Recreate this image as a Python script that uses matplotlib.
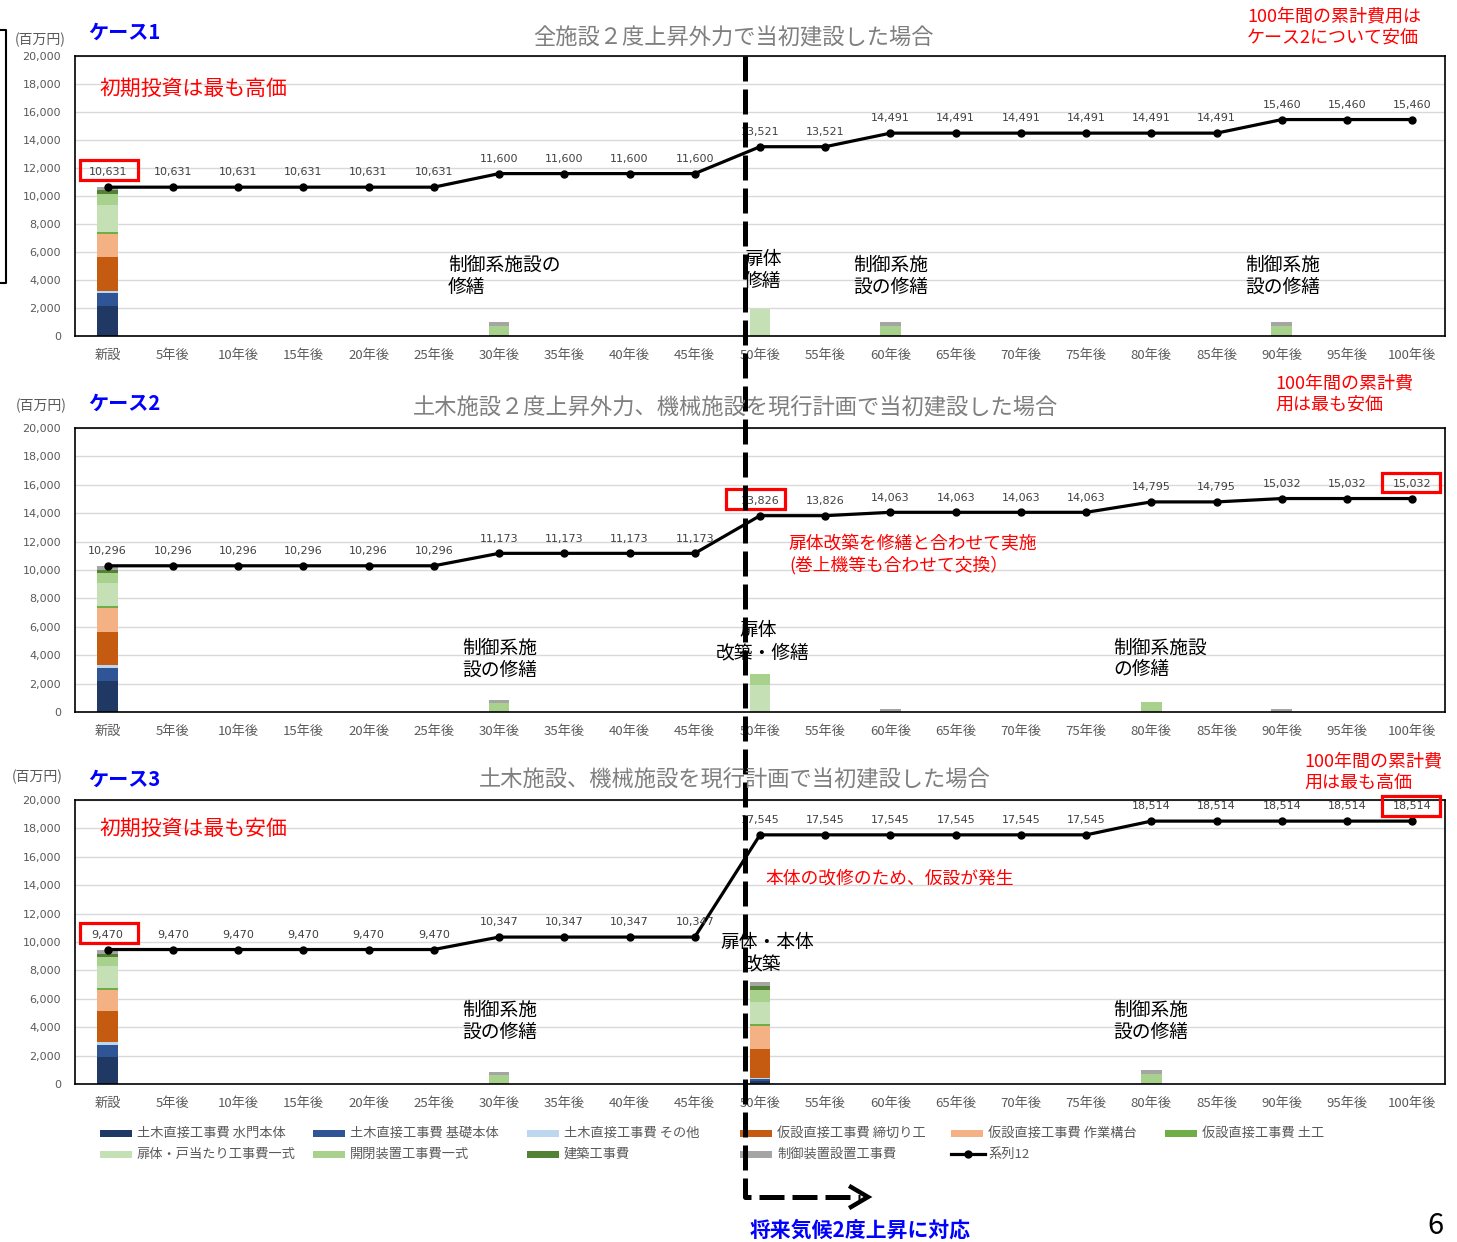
import matplotlib
matplotlib.use("Agg")
import matplotlib.pyplot as plt
from matplotlib.patches import Rectangle
from matplotlib.lines import Line2D
import numpy as np

plt.rcParams['font.family'] = ['Noto Sans CJK JP', 'DejaVu Sans']

# ---- categories -------------------------------------------------------
periods = ['新設', '5年後', '10年後', '15年後', '20年後', '25年後', '30年後',
           '35年後', '40年後', '45年後', '50年後', '55年後', '60年後', '65年後',
           '70年後', '75年後', '80年後', '85年後', '90年後', '95年後', '100年後']

components = ['土木直接工事費 水門本体', '土木直接工事費 基礎本体', '土木直接工事費 その他',
              '仮設直接工事費 締切り工', '仮設直接工事費 作業構台', '仮設直接工事費 土工',
              '扉体・戸当たり工事費一式', '開閉装置工事費一式', '建築工事費', '制御装置設置工事費']
component_colors = ['#203864', '#2F5597', '#BDD7EE', '#C55A11', '#F4B183', '#70AD47',
                    '#C5E0B4', '#A9D18E', '#548235', '#A5A5A5']

# ---- cost per period (million yen), order follows `components` ----------
case1_bars = {
    '新設':   [2150, 900, 200, 2400, 1630, 170, 1921, 790, 260, 210],
    '30年後': [0, 0, 0, 0, 0, 0, 0, 732, 0, 237],
    '50年後': [0, 0, 0, 0, 0, 0, 1921, 0, 0, 0],
    '60年後': [0, 0, 0, 0, 0, 0, 0, 733, 0, 237],
    '90年後': [0, 0, 0, 0, 0, 0, 0, 732, 0, 237],
}
case2_bars = {
    '新設':   [2180, 890, 210, 2330, 1690, 165, 1650, 640, 280, 261],
    '30年後': [0, 0, 0, 0, 0, 0, 0, 640, 0, 237],
    '50年後': [0, 0, 0, 0, 0, 0, 1921, 732, 0, 0],
    '60年後': [0, 0, 0, 0, 0, 0, 0, 0, 0, 237],
    '80年後': [0, 0, 0, 0, 0, 0, 0, 732, 0, 0],
    '90年後': [0, 0, 0, 0, 0, 0, 0, 0, 0, 237],
}
case3_bars = {
    '新設':   [1900, 865, 215, 2140, 1490, 145, 1540, 640, 240, 295],
    '30年後': [0, 0, 0, 0, 0, 0, 0, 640, 0, 237],
    '50年後': [200, 125, 75, 2100, 1575, 150, 1550, 850, 250, 323],
    '80年後': [0, 0, 0, 0, 0, 0, 0, 732, 0, 237],
}

# ---- cumulative cost (系列12) -------------------------------------------
case1_total = [10631, 10631, 10631, 10631, 10631, 10631, 11600, 11600, 11600, 11600,
               13521, 13521, 14491, 14491, 14491, 14491, 14491, 14491, 15460, 15460, 15460]
case2_total = [10296, 10296, 10296, 10296, 10296, 10296, 11173, 11173, 11173, 11173,
               13826, 13826, 14063, 14063, 14063, 14063, 14795, 14795, 15032, 15032, 15032]
case3_total = [9470, 9470, 9470, 9470, 9470, 9470, 10347, 10347, 10347, 10347,
               17545, 17545, 17545, 17545, 17545, 17545, 18514, 18514, 18514, 18514, 18514]

y_ticks = [0, 2000, 4000, 6000, 8000, 10000, 12000, 14000, 16000, 18000, 20000]

W, H = 1457, 1242
fig = plt.figure(figsize=(W / 100, H / 100), dpi=100)
GRAY = '#595959'
TITLE_GRAY = '#7F7F7F'
RED = '#FF0000'
BLUE = '#0000FF'


def px_axes(l, t, r, b):
    return fig.add_axes([l / W, 1 - b / H, (r - l) / W, (b - t) / H])


panels = [
    ((75, 56, 1445, 336), case1_bars, case1_total),
    ((75, 428, 1445, 712), case2_bars, case2_total),
    ((75, 800, 1445, 1084), case3_bars, case3_total),
]

for box, bars, total in panels:
    ax = px_axes(*box)
    x = np.arange(len(periods))
    bottoms = np.zeros(len(periods))
    for k, color in enumerate(component_colors):
        vals = np.zeros(len(periods))
        for period, comp_vals in bars.items():
            vals[periods.index(period)] = comp_vals[k]
        ax.bar(x, vals, 0.32, bottom=bottoms, color=color, linewidth=0, zorder=2)
        bottoms += vals
    ax.plot(x, total, color='black', lw=2.3, marker='o', ms=5, zorder=3)
    for xi, v in zip(x, total):
        ax.annotate(f'{v:,}', (xi, v), xytext=(0, 7), textcoords='offset points',
                    ha='center', va='bottom', fontsize=8, color='#404040',
                    family='DejaVu Sans', zorder=4)
    ax.set_xlim(-0.5, len(periods) - 0.5)
    ax.set_ylim(0, 20000)
    ax.set_yticks(y_ticks)
    ax.set_yticklabels([f'{t:,}' for t in y_ticks], family='DejaVu Sans',
                       fontsize=8, color=GRAY)
    ax.set_xticks(x)
    ax.set_xticklabels(periods, fontsize=9.5, color=GRAY)
    ax.tick_params(length=0)
    ax.tick_params(axis='y', pad=10)
    ax.tick_params(axis='x', pad=9)
    ax.grid(axis='y', color='#D9D9D9', lw=1, zorder=0)
    ax.set_axisbelow(True)
    for s in ax.spines.values():
        s.set_color('black')
        s.set_linewidth(1.2)

# ---- annotation layer in pixel coordinates ------------------------------
ov = fig.add_axes([0, 0, 1, 1], zorder=10)
ov.set_xlim(0, W)
ov.set_ylim(H, 0)
ov.axis('off')
ov.patch.set_alpha(0)


def txt(x, y, s, size=13.5, color='black', ha='left', weight='normal'):
    ov.text(x, y, s, fontsize=size, color=color, ha=ha, va='center', weight=weight)


# case 1
txt(15, 40, '(百万円)', 10, GRAY)
txt(88, 32, 'ケース1', 14.5, BLUE, weight='bold')
txt(733, 38, '全施設２度上昇外力で当初建設した場合', 16, TITLE_GRAY, ha='center')
txt(100, 89, '初期投資は最も高価', 15, RED)
txt(1247, 16, '100年間の累計費用は', 13, RED)
txt(1247, 38, 'ケース2について安価', 13, RED)
txt(448, 265, '制御系施設の')
txt(448, 287, '修繕')
txt(744, 259, '扉体')
txt(744, 281, '修繕')
txt(853, 265, '制御系施')
txt(853, 287, '設の修繕')
txt(1245, 265, '制御系施')
txt(1245, 287, '設の修繕')

# case 2
txt(16, 406, '(百万円)', 10, GRAY)
txt(88, 403, 'ケース2', 14.5, BLUE, weight='bold')
txt(735, 408, '土木施設２度上昇外力、機械施設を現行計画で当初建設した場合', 16, TITLE_GRAY, ha='center')
txt(1275, 383, '100年間の累計費', 13, RED)
txt(1275, 405, '用は最も安価', 13, RED)
txt(789, 544, '扉体改築を修繕と合わせて実施', 12.8, RED)
txt(789, 565, '(巻上機等も合わせて交換）', 12.8, RED)
txt(462, 648, '制御系施')
txt(462, 670, '設の修繕')
txt(739, 630, '扉体')
txt(716, 653, '改築・修繕')
txt(1113, 648, '制御系施設')
txt(1113, 670, 'の修繕')

# case 3
txt(12, 777, '(百万円)', 10, GRAY)
txt(88, 779, 'ケース3', 14.5, BLUE, weight='bold')
txt(735, 780, '土木施設、機械施設を現行計画で当初建設した場合', 16, TITLE_GRAY, ha='center')
txt(1304, 761, '100年間の累計費', 13, RED)
txt(1304, 783, '用は最も高価', 13, RED)
txt(100, 829, '初期投資は最も安価', 15, RED)
txt(765, 878, '本体の改修のため、仮設が発生', 12.8, RED)
txt(720, 942, '扉体・本体')
txt(744, 965, '改築')
txt(462, 1010, '制御系施')
txt(462, 1032, '設の修繕')
txt(1113, 1010, '制御系施')
txt(1113, 1032, '設の修繕')

# highlighted values
for x0, y0, x1, y1 in [(80, 160, 138, 180), (726, 489, 785, 509), (1382, 473, 1440, 492),
                       (80, 923, 138, 943), (1382, 796, 1440, 816)]:
    ov.add_patch(Rectangle((x0, y0), x1 - x0, y1 - y0, fill=False, ec=RED, lw=2.3))

# left bracket
ov.add_line(Line2D([0, 6, 6, 0], [30, 30, 283, 283], color='black', lw=1.5))

# legend
leg_cols = [100, 313, 527, 740, 951, 1165]
leg_rows = [1133, 1154]
leg_slots = [(0, 0), (0, 1), (0, 2), (0, 3), (0, 4), (0, 5),
             (1, 0), (1, 1), (1, 2), (1, 3)]
for k, (r, c) in enumerate(leg_slots):
    lx, ly = leg_cols[c], leg_rows[r]
    ov.add_patch(Rectangle((lx, ly - 3.5), 32, 7, color=component_colors[k], lw=0))
    ov.text(lx + 37, ly, components[k], fontsize=9.5, color=GRAY, va='center', ha='left')
lx, ly = leg_cols[4], leg_rows[1]
ov.add_line(Line2D([lx, lx + 34], [ly, ly], color='black', lw=2.3))
ov.add_line(Line2D([lx + 17], [ly], color='black', marker='o', ms=5))
ov.text(lx + 37, ly, '系列12', fontsize=9.5, color=GRAY, va='center', ha='left')

# 2-degree threshold line and arrow
ov.add_line(Line2D([745, 745, 860], [56, 1197, 1197], color='black', lw=3.6,
                   dashes=(5, 1.6)))
ov.add_line(Line2D([851, 868, 851], [1187, 1197, 1207], color='black', lw=3.2,
                   solid_joinstyle='miter'))
txt(750, 1230, '将来気候2度上昇に対応', 15, BLUE, weight='bold')
ov.text(1435, 1226, '6', fontsize=21, color='black', ha='center', va='center')

fig.savefig('out.png', dpi=100)
